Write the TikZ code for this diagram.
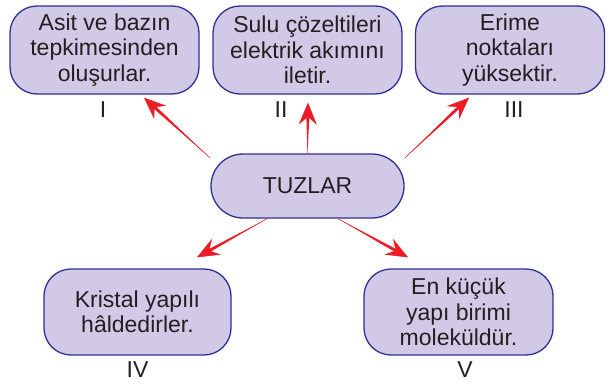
\documentclass[tikz,border=0pt]{standalone}
\usepackage{fontspec}
\setmainfont{Liberation Sans}
\usetikzlibrary{arrows.meta, calc, positioning}
\definecolor{boxfill}{RGB}{209,201,230}
\definecolor{boxline}{RGB}{46,49,146}
\definecolor{arrred}{RGB}{237,28,36}
\definecolor{txt}{RGB}{35,31,32}
\tikzset{
  card/.style={draw=boxline, fill=boxfill, line width=1.3pt, rounded corners=27pt,
    minimum width=189pt, minimum height=88pt, align=center, text=txt,
    font=\fontsize{23}{25.5}\selectfont, inner sep=0pt},
  roman/.style={text=txt, font=\fontsize{23}{25.5}\selectfont, inner sep=0pt},
}

\begin{document}
\begin{tikzpicture}[x=1pt, y=-1pt]
            \useasboundingbox (0,0) rectangle (613,383);

            \node[card] (b1) at (104.5,50) {Asit ve bazın\\tepkimesinden\\oluşurlar.};
            \node[card] (b2) at (307.5,50) {Sulu çözeltileri\\elektrik akımını\\iletir.};
            \node[card] (b3) at (510,50) {Erime\\noktaları\\yüksektir.};
            \node[card, minimum width=193pt, minimum height=64pt, rounded corners=32pt] (tuz) at (307.5,186) {TUZLAR};
            \node[card, minimum width=187pt, minimum height=86pt] (b4) at (137.5,312) {Kristal yapılı\\hâldedirler.};
            \node[card, minimum height=86pt] (b5) at (458.5,312) {En küçük\\yapı birimi\\moleküldür.};

            \node[roman, below=7pt of b1, xshift=-1.5pt] (l1) {I};
            \node[roman, below=7pt of b2, xshift=-26.5pt] (l2) {II};
            \node[roman, below=7pt of b3, xshift=4pt] (l3) {III};
            \node[roman, below=6pt of b4] (l4) {IV};
            \node[roman, below=6pt of b5, xshift=6.5pt] (l5) {V};

            \coordinate (h1) at ($(b1.south)+(39.5,3)$);
            \coordinate (h2) at ($(b2.south)+(0.5,8)$);
            \coordinate (h3) at ($(b3.south)+(-41,3)$);
            \coordinate (h4) at ($(b4.north)+(59.5,-11)$);
            \coordinate (h5) at ($(b5.north)+(-50.5,-11)$);

            \foreach \t/\h in {tuz.164/h1, tuz.north/h2, tuz.16/h3, tuz.219/h4, tuz.313/h5} {
                \fill[arrred] (\t) -- ($(\h)!12pt!(\t)!1.6pt!90:(\t)$) -- ($(\h)!12pt!(\t)!1.6pt!-90:(\t)$) -- cycle;
                \draw[arrred, line width=0.4pt, -{Stealth[length=22pt, width=18pt, inset=8pt]}] (\t) -- (\h);
            }
        \end{tikzpicture}
\end{document}
